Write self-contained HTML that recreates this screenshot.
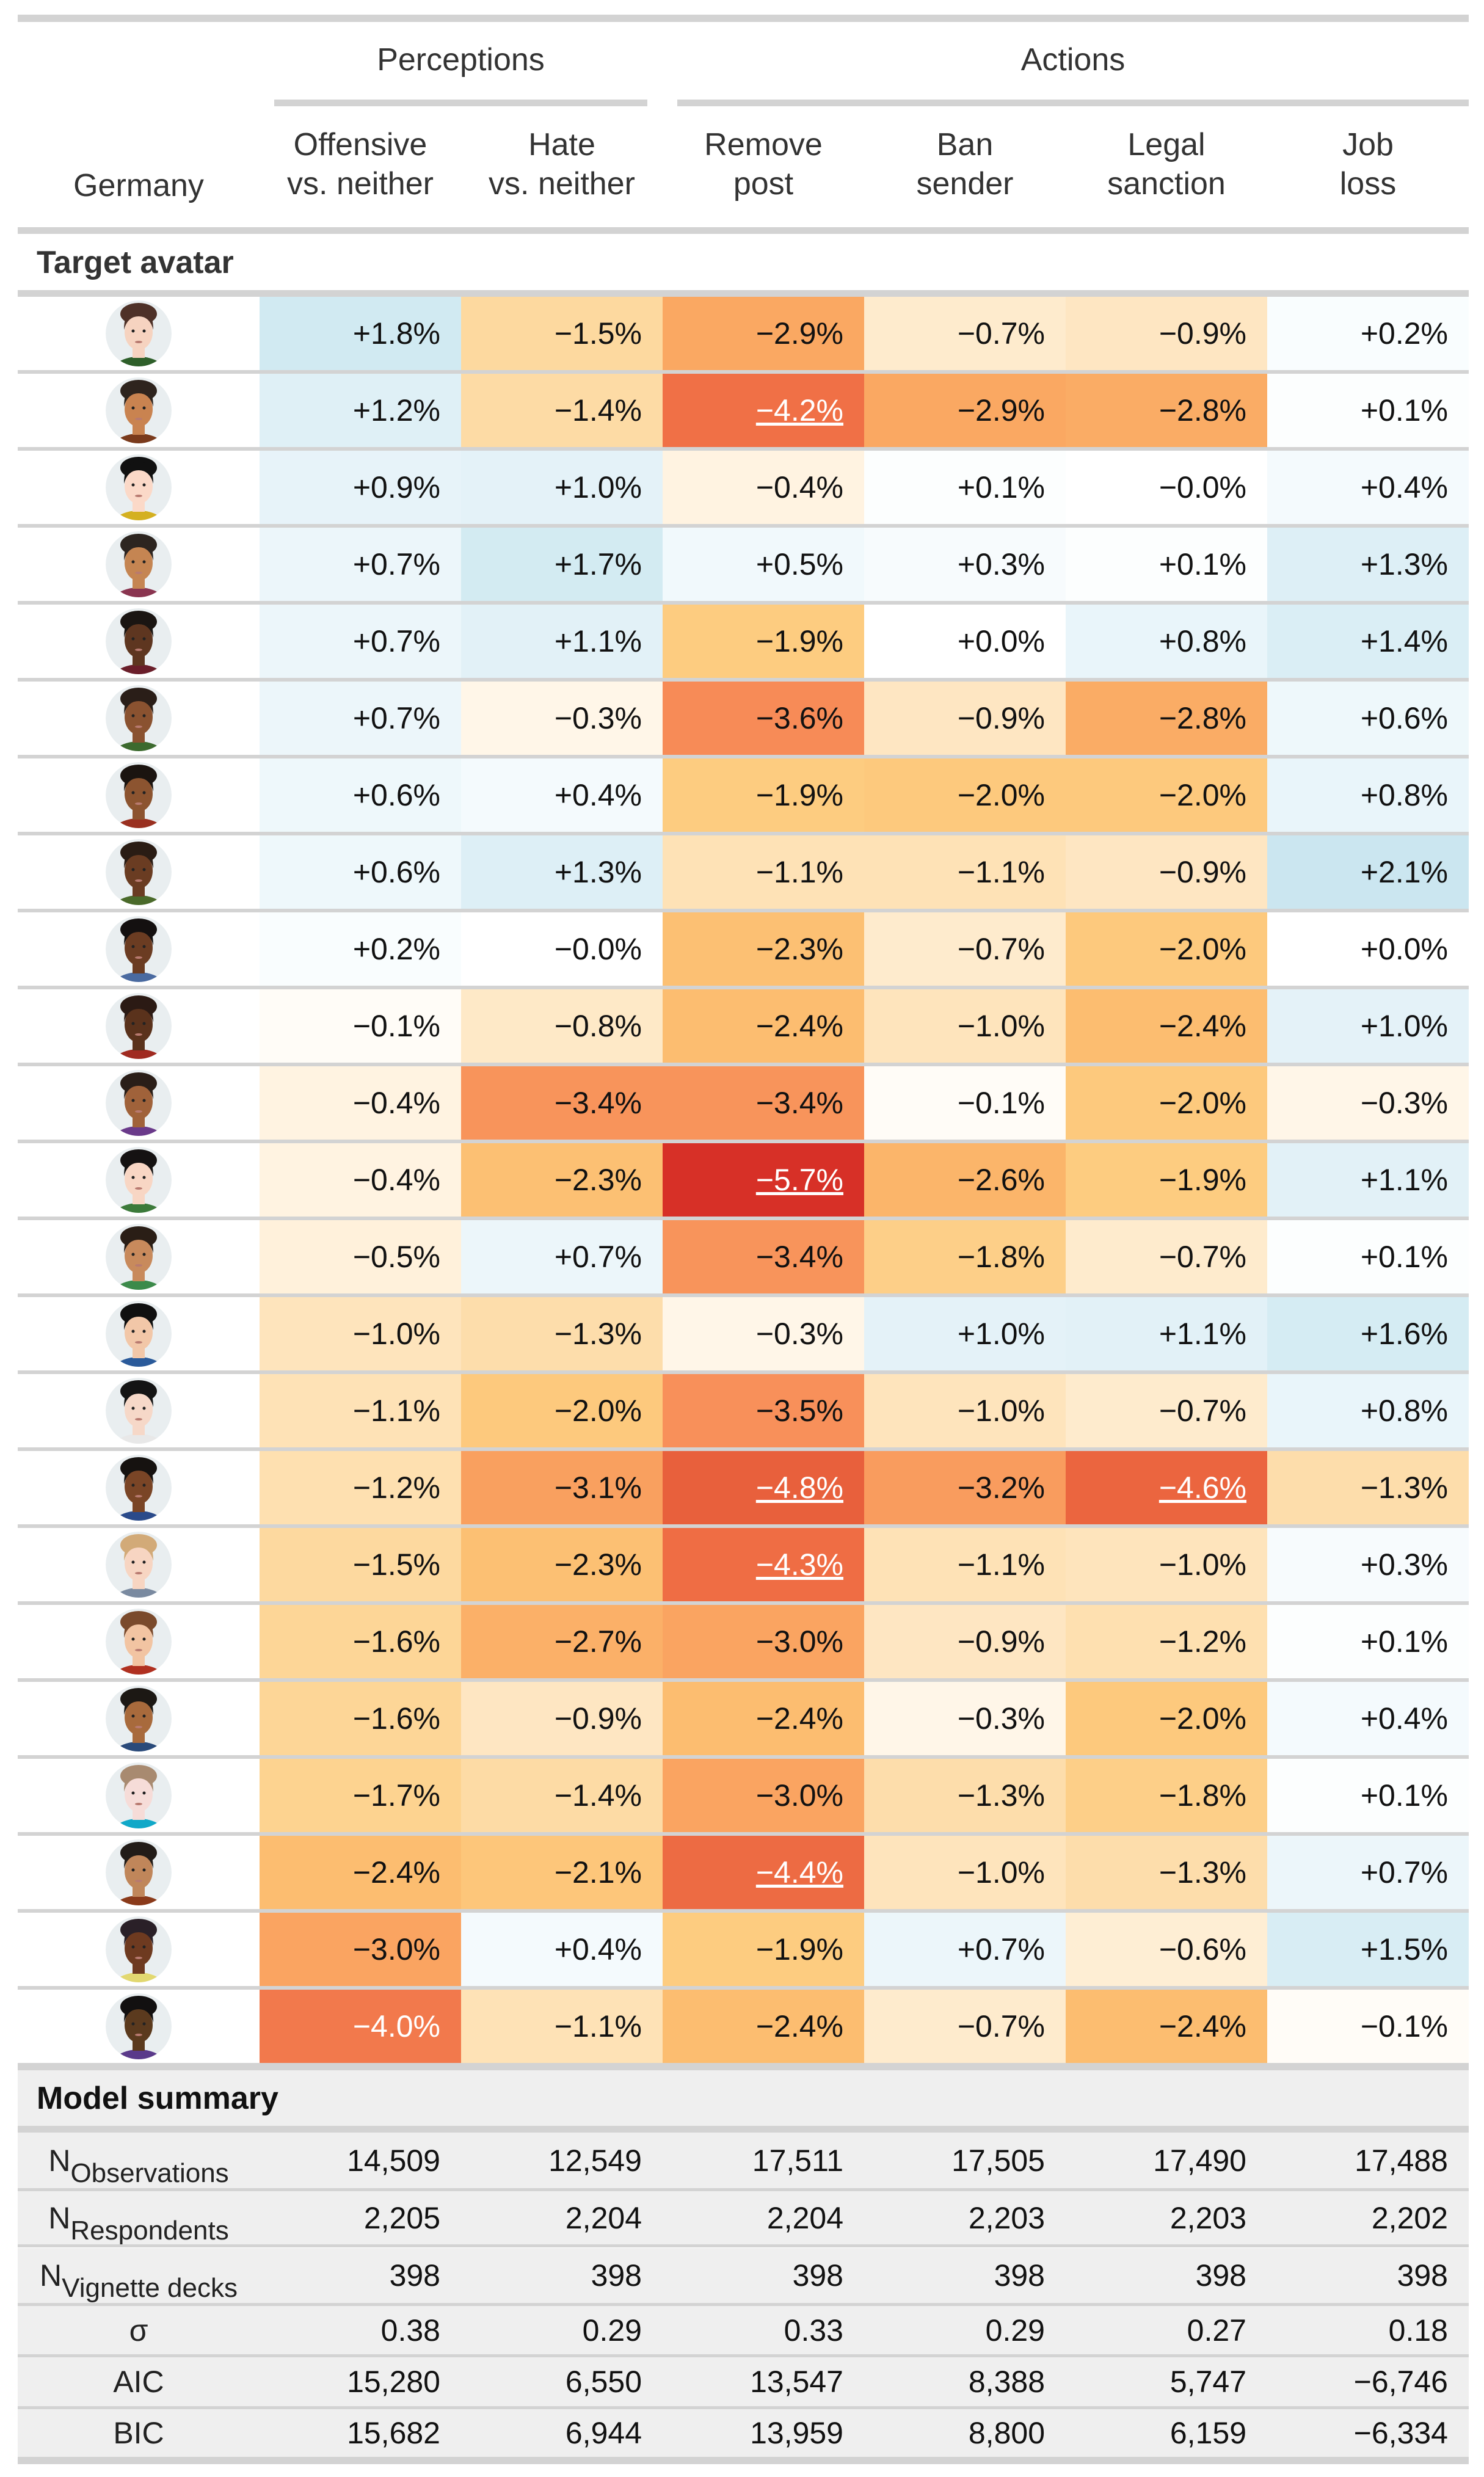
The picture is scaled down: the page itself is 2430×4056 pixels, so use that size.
<!DOCTYPE html>
<html><head><meta charset="utf-8">
<style>
html,body{margin:0;padding:0;background:#fff;}
#root{position:relative;width:2430px;height:4056px;overflow:hidden;font-family:"Liberation Sans",sans-serif;color:#333;}
.abs{position:absolute;}
.rule{position:absolute;background:#d3d3d3;}
.hdr{position:absolute;text-align:center;font-size:52px;line-height:64px;color:#333;}
.cell{position:absolute;box-sizing:border-box;text-align:right;padding-right:34px;font-size:50px;color:#111;display:flex;align-items:center;justify-content:flex-end;}
.lab{position:absolute;text-align:center;font-size:50px;color:#222;display:flex;align-items:center;justify-content:center;}
.lab span{display:inline-block;white-space:nowrap;}
.lab sub{font-size:44px;vertical-align:-18px;line-height:0;}
</style></head><body>
<div id="root">
  <div class="rule" style="left:29px;top:24px;width:2376px;height:12px"></div>
  <div class="hdr" style="left:449px;top:66px;width:611px">Perceptions</div>
  <div class="rule" style="left:449px;top:163px;width:611px;height:11px"></div>
  <div class="hdr" style="left:1109px;top:66px;width:1296px">Actions</div>
  <div class="rule" style="left:1109px;top:163px;width:1296px;height:11px"></div>
  <div class="hdr" style="left:29px;top:272px;width:396px">Germany</div>
  <div class="rule" style="left:29px;top:372px;width:2376px;height:11px"></div>
  <div class="abs" style="left:60px;top:400px;font-size:52px;font-weight:bold;line-height:60px;color:#333">Target avatar</div>
  <div class="rule" style="left:29px;top:475px;width:2376px;height:11px"></div>
  <div class="rule" style="left:29px;top:3378px;width:2376px;height:12px"></div>
  <div class="abs" style="left:29px;top:3390px;width:2376px;height:91px;background:#efefef"></div>
  <div class="abs" style="left:60px;top:3406px;font-size:52px;font-weight:bold;line-height:60px;color:#111">Model summary</div>
  <div class="rule" style="left:29px;top:3481px;width:2376px;height:11px"></div>
</div>
<script>
const columns = ["Offensive|vs. neither","Hate|vs. neither","Remove|post","Ban|sender","Legal|sanction","Job|loss"];
const offensive = [1.8,1.2,0.9,0.7,0.7,0.7,0.6,0.6,0.2,-0.1,-0.4,-0.4,-0.5,-1.0,-1.1,-1.2,-1.5,-1.6,-1.6,-1.7,-2.4,-3.0,-4.0];
const hate = [-1.5,-1.4,1.0,1.7,1.1,-0.3,0.4,1.3,-0.0,-0.8,-3.4,-2.3,0.7,-1.3,-2.0,-3.1,-2.3,-2.7,-0.9,-1.4,-2.1,0.4,-1.1];
const removePost = [-2.9,-4.2,-0.4,0.5,-1.9,-3.6,-1.9,-1.1,-2.3,-2.4,-3.4,-5.7,-3.4,-0.3,-3.5,-4.8,-4.3,-3.0,-2.4,-3.0,-4.4,-1.9,-2.4];
const banSender = [-0.7,-2.9,0.1,0.3,0.0,-0.9,-2.0,-1.1,-0.7,-1.0,-0.1,-2.6,-1.8,1.0,-1.0,-3.2,-1.1,-0.9,-0.3,-1.3,-1.0,0.7,-0.7];
const legalSanction = [-0.9,-2.8,-0.0,0.1,0.8,-2.8,-2.0,-0.9,-2.0,-2.4,-2.0,-1.9,-0.7,1.1,-0.7,-4.6,-1.0,-1.2,-2.0,-1.8,-1.3,-0.6,-2.4];
const jobLoss = [0.2,0.1,0.4,1.3,1.4,0.6,0.8,2.1,0.0,1.0,-0.3,1.1,0.1,1.6,0.8,-1.3,0.3,0.1,0.4,0.1,0.7,1.5,-0.1];
const sigRemove = [1,11,15,16,20];
const sigLegal = [15];
const summaryLabels = [["N","Observations"],["N","Respondents"],["N","Vignette decks"],["σ",""],["AIC",""],["BIC",""]];
const summaryObs = ["14,509","12,549","17,511","17,505","17,490","17,488"];
const summaryResp = ["2,205","2,204","2,204","2,203","2,203","2,202"];
const summaryVig = ["398","398","398","398","398","398"];
const summarySigma = ["0.38","0.29","0.33","0.29","0.27","0.18"];
const summaryAIC = ["15,280","6,550","13,547","8,388","5,747","−6,746"];
const summaryBIC = ["15,682","6,944","13,959","8,800","6,159","−6,334"];
const avatarSkin = ["#f6d3c0","#c98350","#fbd9c8","#c58552","#5e3620","#8a5230","#8c5430","#6a3c22","#6b3c22","#5a321c","#a0623a","#f8d6c4","#c88a5c","#f2c7a8","#f6d8c8","#7a4526","#f7d5c2","#f2c4a2","#a86a3c","#f6dcd8","#c0865a","#6e3a20","#5b3a1e"];
const avatarHair = ["#4e3128","#2e241e","#111111","#2d2520","#1a1512","#2a1e18","#1b1410","#2a1c14","#141010","#2b1a14","#2a1e18","#151212","#2a1e16","#101010","#141414","#161210","#d2aa78","#7a4a2c","#1c1814","#a88a70","#221c18","#2a2028","#121010"];
const avatarShirt = ["#2e5f2a","#7a3a1c","#d4b020","#8a3550","#6a1e2a","#3c6a2e","#9a3020","#4a6a2a","#4a6aa0","#a02a20","#6a3a8a","#3c7a3a","#3c8a4a","#2a5a9a","#e8e8e8","#2a4a8a","#7a8aa0","#b03020","#2a4a7a","#10a8c8","#8a3a1a","#e2d870","#5a3a8a"];

const root = document.getElementById('root');
const X0 = 425, CW = 330, ROW0 = 486, PITCH = 126, RH = 120;
const allCols = [offensive, hate, removePost, banSender, legalSanction, jobLoss];
const sigs = [[],[],sigRemove,[],sigLegal,[]];

function xCol(i){ return X0 + CW*i; }
function yRow(r){ return ROW0 + PITCH*r; }
function lerp(a,b,t){ return Math.round(a+(b-a)*t); }
function hex(c){ return [parseInt(c.slice(1,3),16),parseInt(c.slice(3,5),16),parseInt(c.slice(5,7),16)]; }
const stops = [[-5.7,"#d73027"],[-4.8,"#e8603c"],[-4.2,"#f07046"],[-3.5,"#f8905a"],[-2.9,"#faa862"],[-2.4,"#fcbd70"],[-1.9,"#fdcc80"],[-1.5,"#fdd99f"],[-1.0,"#fee4bc"],[-0.7,"#feebcd"],[-0.3,"#fff6e8"],[0,"#ffffff"],[0.5,"#f1f9fc"],[1.0,"#e4f2f8"],[1.6,"#d5ecf3"],[2.1,"#cbe6f0"]];
function colorFor(v){
  if (v<=stops[0][0]) return stops[0][1];
  for (let i=0;i<stops.length-1;i++){
    const [a,ca]=stops[i],[b,cb]=stops[i+1];
    if (v>=a && v<=b){ const t=(v-a)/(b-a); const A=hex(ca),B=hex(cb);
      return `rgb(${lerp(A[0],B[0],t)},${lerp(A[1],B[1],t)},${lerp(A[2],B[2],t)})`; }
  }
  return stops[stops.length-1][1];
}
function fmt(v){
  const neg = v<0 || Object.is(v,-0);
  return (neg?'−':'+') + Math.abs(v).toFixed(1) + '%';
}

columns.forEach((c,i)=>{
  const d=document.createElement('div');
  d.className='hdr';
  d.style.left=xCol(i)+'px'; d.style.top='205px'; d.style.width=CW+'px';
  d.innerHTML=c.split('|').join('<br>');
  
  
  root.appendChild(d);
});

for (let r=0;r<offensive.length;r++){
  const y=yRow(r);
  const av=document.createElement('div');
  av.className='abs';
  av.style.left='173px'; av.style.top=(y+6)+'px'; av.style.width='108px'; av.style.height='108px';
  
  
  const id='clip'+r;
  av.innerHTML=`<svg width="108" height="108" viewBox="0 0 108 108"><defs><clipPath id="${id}"><circle cx="54" cy="54" r="54"/></clipPath></defs>
  <g clip-path="url(#${id})"><circle cx="54" cy="54" r="54" fill="#e9eef0"/>
  <ellipse cx="54" cy="118" rx="44" ry="26" fill="${avatarShirt[r]}"/>
  <rect x="44" y="70" width="20" height="24" fill="${avatarSkin[r]}"/>
  <ellipse cx="54" cy="22" rx="30" ry="18" fill="${avatarHair[r]}"/>
  <ellipse cx="54" cy="52" rx="23" ry="29" fill="${avatarSkin[r]}"/>
  <path d="M30 48 Q30 12 54 12 Q78 12 78 48 Q72 26 54 26 Q36 26 30 48Z" fill="${avatarHair[r]}"/>
  <circle cx="45" cy="50" r="2.5" fill="#222"/><circle cx="63" cy="50" r="2.5" fill="#222"/>
  <ellipse cx="54" cy="68" rx="6" ry="2" fill="#b87a70"/></g></svg>`;
  root.appendChild(av);
  for (let c=0;c<6;c++){
    const v=allCols[c][r];
    const d=document.createElement('div');
    d.className='cell';
    d.style.left=xCol(c)+'px'; d.style.top=y+'px'; d.style.width=CW+'px'; d.style.height=RH+'px';
    d.style.background=colorFor(v);
    if (v<=-3.95) d.style.color='#fff';
    if (sigs[c].includes(r)) d.style.textDecoration='underline';
    d.textContent=fmt(v);
    
    
    root.appendChild(d);
  }
  if (r<offensive.length-1){
    const s=document.createElement('div');
    s.className='rule';
    s.style.left='29px'; s.style.top=(y+RH)+'px'; s.style.width='2376px'; s.style.height='6px';
    
    
    root.appendChild(s);
  }
}

const summaryVals=[summaryObs,summaryResp,summaryVig,summarySigma,summaryAIC,summaryBIC];
const sumTops=[3492,3588,3681,3776,3860,3945];
const sumBots=[3583,3675,3771,3855,3940,4023];
for (let k=0;k<6;k++){
  const t=sumTops[k], h=sumBots[k]-t;
  const bg=document.createElement('div');
  bg.className='abs';
  bg.style.left='29px'; bg.style.top=t+'px'; bg.style.width='2376px'; bg.style.height=h+'px'; bg.style.background='#efefef';
  
  
  root.appendChild(bg);
  const l=document.createElement('div');
  l.className='lab';
  l.style.left='29px'; l.style.top=t+'px'; l.style.width='396px'; l.style.height=h+'px';
  l.innerHTML='<span>'+summaryLabels[k][0]+(summaryLabels[k][1]?'<sub>'+summaryLabels[k][1]+'</sub>':'')+'</span>';
  
  
  root.appendChild(l);
  for (let c=0;c<6;c++){
    const d=document.createElement('div');
    d.className='cell';
    d.style.left=xCol(c)+'px'; d.style.top=t+'px'; d.style.width=CW+'px'; d.style.height=h+'px';
    d.textContent=summaryVals[k][c];
    
    
    root.appendChild(d);
  }
  const s=document.createElement('div');
  s.className='rule';
  s.style.left='29px'; s.style.top=sumBots[k]+'px'; s.style.width='2376px';
  s.style.height=(k===5?12:5)+'px';
  
  
  root.appendChild(s);
}
</script>
</body></html>
